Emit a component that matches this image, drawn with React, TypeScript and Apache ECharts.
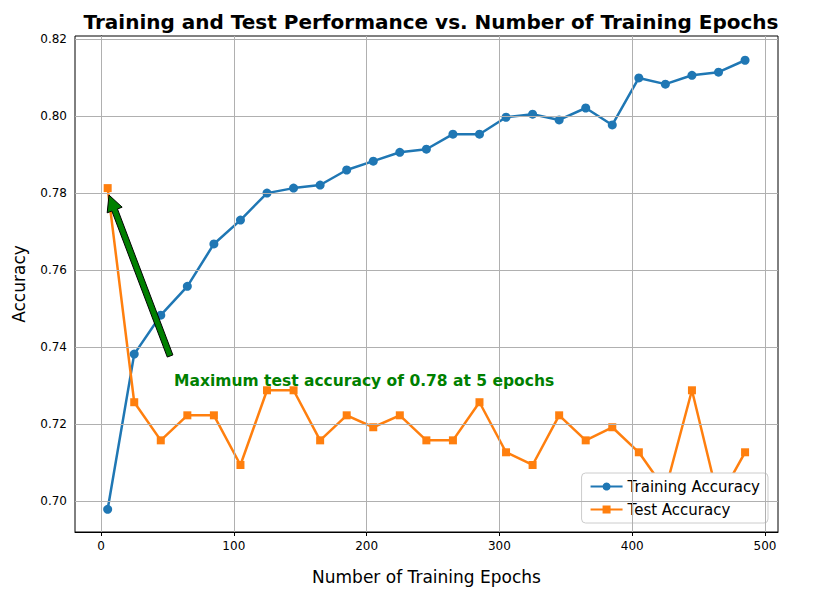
import { useEffect, useRef } from 'react';
import * as echarts from 'echarts';

const epochs = [5, 25, 45, 65, 85, 105, 125, 145, 165, 185, 205, 225, 245, 265, 285, 305, 325, 345, 365, 385, 405, 425, 445, 465, 485];
const trainAcc = [0.6979, 0.7382, 0.7483, 0.7558, 0.7668, 0.773, 0.78, 0.7813, 0.7821, 0.786, 0.7883, 0.7906, 0.7914, 0.7953, 0.7953, 0.7997, 0.8005, 0.799, 0.8021, 0.7977, 0.8099, 0.8083, 0.8106, 0.8114, 0.8145];
const testAcc = [0.7813, 0.7257, 0.7158, 0.7223, 0.7223, 0.7094, 0.7288, 0.7288, 0.7158, 0.7223, 0.7192, 0.7223, 0.7158, 0.7158, 0.7257, 0.7127, 0.7094, 0.7223, 0.7158, 0.7192, 0.7127, 0.7029, 0.7288, 0.7003, 0.7127];
const xTicks = [0, 100, 200, 300, 400, 500];
const yTicks = [0.7, 0.72, 0.74, 0.76, 0.78, 0.8, 0.82];
const arrowTail = [52, 0.7377];
const arrowTip = [6, 0.7795];
const notePos = [55, 0.7313];

export default function App() {
  const chartRef = useRef<HTMLDivElement>(null);

  useEffect(() => {
    if (!chartRef.current) return;
    const chart = echarts.init(chartRef.current, null, { renderer: 'svg' });
    const font = 'DejaVu Sans';
    chart.setOption({
      animation: false,
      textStyle: { fontFamily: font },
      title: {
        text: 'Training and Test Performance vs. Number of Training Epochs',
        left: 426, top: 7, textAlign: 'center',
        textStyle: { fontSize: 20, fontWeight: 'bold', color: '#000', fontFamily: font },
      },
      grid: { left: 75, right: 44, top: 36, bottom: 58, show: true, borderColor: '#000', borderWidth: 1 },
      xAxis: {
        type: 'value', min: -19.6, max: 509.8,
        name: 'Number of Training Epochs', nameLocation: 'middle', nameGap: 36,
        nameTextStyle: { fontSize: 17, color: '#000' },
        axisLine: { onZero: false, lineStyle: { color: '#000' } },
        axisTick: { customValues: xTicks, length: 4, lineStyle: { color: '#000' } },
        axisLabel: { color: '#000', fontSize: 12, customValues: xTicks },
        splitLine: { show: false },
      },
      yAxis: {
        type: 'value', min: 0.692, max: 0.8208,
        name: 'Accuracy', nameLocation: 'middle', nameGap: 48,
        nameTextStyle: { fontSize: 17, color: '#000' },
        axisLine: { show: true, lineStyle: { color: '#000' } },
        axisTick: { show: true, length: 4, customValues: yTicks, lineStyle: { color: '#000' } },
        axisLabel: { color: '#000', fontSize: 12, customValues: yTicks, formatter: (v: number) => v.toFixed(2) },
        splitLine: { show: false },
      },
      legend: {
        orient: 'vertical', right: 54, bottom: 67, padding: [6, 8],
        backgroundColor: '#fff', borderColor: '#ccc', borderWidth: 1, borderRadius: 4,
        itemWidth: 32, itemHeight: 10, itemGap: 8,
        textStyle: { fontSize: 15, color: '#000' },
      },
      series: [
        {
          name: 'Training Accuracy', type: 'line', symbol: 'circle', symbolSize: 9,
          color: '#1f77b4', lineStyle: { width: 2.5 },
          data: epochs.map((e, i) => [e, trainAcc[i]]),
          markLine: {
            silent: true, symbol: 'none', label: { show: false },
            lineStyle: { color: '#b0b0b0', type: 'solid', width: 1 },
            data: [
              ...xTicks.map((v) => ({ xAxis: v })),
              ...yTicks.map((v) => ({ yAxis: v })),
            ],
          },
          z: 3,
        },
        {
          name: 'Test Accuracy', type: 'line', symbol: 'rect', symbolSize: 8,
          color: '#ff7f0e', lineStyle: { width: 2.5 },
          data: epochs.map((e, i) => [e, testAcc[i]]),
          z: 3,
        },
      ],
    });

    const [tx, ty] = chart.convertToPixel('grid', arrowTail);
    const [hx, hy] = chart.convertToPixel('grid', arrowTip);
    const ang = Math.atan2(hy - ty, hx - tx);
    const len = Math.hypot(hx - tx, hy - ty);
    const headLen = 16, headW = 8, shaftW = 3;
    const pt = (a: number, o: number) => [
      tx + Math.cos(ang) * a - Math.sin(ang) * o,
      ty + Math.sin(ang) * a + Math.cos(ang) * o,
    ];
    const arrowPts = [
      pt(0, -shaftW), pt(len - headLen, -shaftW), pt(len - headLen, -headW),
      pt(len, 0), pt(len - headLen, headW), pt(len - headLen, shaftW), pt(0, shaftW),
    ];
    const [nx, ny] = chart.convertToPixel('grid', notePos);
    chart.setOption({
      graphic: [
        { type: 'polygon', shape: { points: arrowPts }, style: { fill: '#008000', stroke: '#000', lineWidth: 1 }, z: 10 },
        {
          type: 'text', x: nx, y: ny,
          style: { text: 'Maximum test accuracy of 0.78 at 5 epochs', fill: '#008000', font: `bold 15.5px "${font}"`, textVerticalAlign: 'middle' },
          z: 10,
        },
      ],
    });

    return () => chart.dispose();
  }, []);

  return <div ref={chartRef} style={{ position: 'absolute', left: 0, top: 0, width: 822, height: 590 }} />;
}
